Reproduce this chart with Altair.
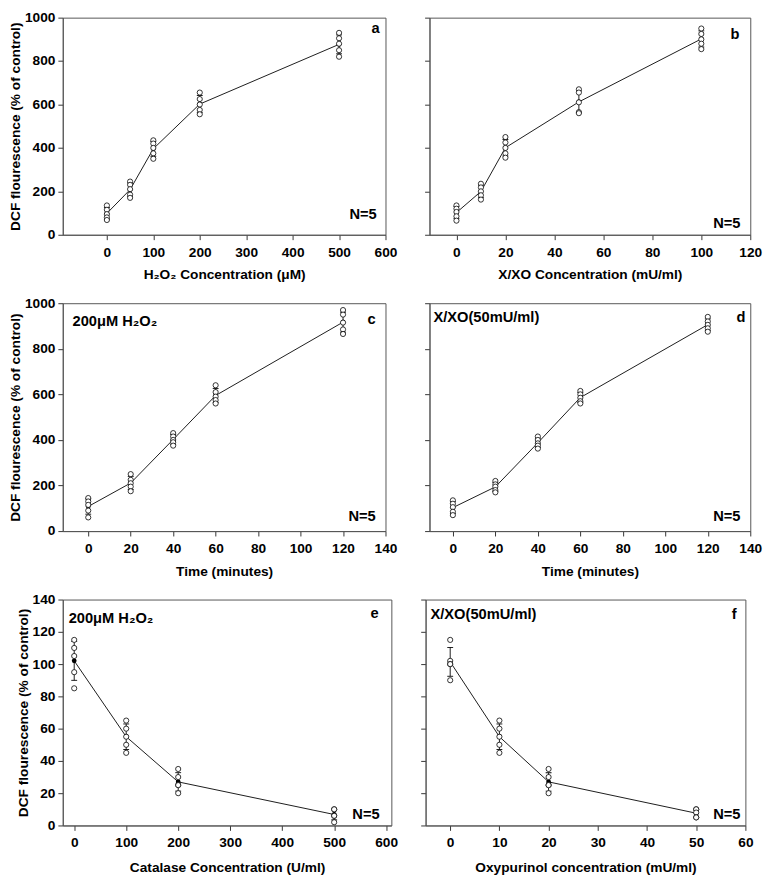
import altair as alt
import pandas as pd

FONT = "Liberation Sans"

# ---------------- data ----------------
a_x = [0, 50, 100, 200, 500]
a_reps = [[135, 115, 95, 80, 68], [245, 230, 210, 185, 170], [435, 420, 400, 375, 350],
          [655, 625, 600, 575, 555], [930, 905, 880, 850, 820]]

b_x = [0, 10, 20, 50, 100]
b_reps = [[135, 120, 105, 85, 65], [235, 218, 200, 182, 162], [450, 425, 400, 375, 355],
          [670, 655, 610, 565, 560], [950, 925, 900, 880, 855]]

c_x = [0, 20, 40, 60, 120]
c_reps = [[145, 130, 115, 90, 60], [250, 225, 210, 195, 175], [430, 415, 400, 390, 375],
          [640, 610, 590, 575, 560], [970, 950, 915, 885, 865]]

d_x = [0, 20, 40, 60, 120]
d_reps = [[135, 120, 105, 85, 70], [220, 205, 195, 180, 170], [415, 400, 385, 375, 362],
          [615, 600, 585, 570, 560], [940, 920, 905, 890, 875]]

e_x = [0, 100, 200, 500]
e_reps = [[115, 110, 105, 95, 85], [65, 60, 55, 50, 45], [35, 30, 25, 25, 20], [10, 10, 6, 6, 2]]

f_x = [0, 10, 20, 50]
f_reps = [[115, 102, 100, 100, 90], [65, 60, 55, 50, 45], [35, 30, 25, 25, 20], [10, 10, 8, 5, 5]]

ticks_a = [0, 100, 200, 300, 400, 500, 600]
ticks_b = [0, 20, 40, 60, 80, 100, 120]
ticks_time = [0, 20, 40, 60, 80, 100, 120, 140]
ticks_e = [0, 100, 200, 300, 400, 500, 600]
ticks_f = [0, 10, 20, 30, 40, 50, 60]
y_ticks_top = [0, 200, 400, 600, 800, 1000]
y_ticks_bot = [0, 20, 40, 60, 80, 100, 120, 140]

Y_TITLE = "DCF flourescence (% of control)"


def text_layer(t, x, y, align, size=15):
    return alt.Chart(pd.DataFrame({"t": [t]})).mark_text(
        align=align, baseline="middle", font=FONT, fontWeight="bold",
        fontSize=size, color="black"
    ).encode(text="t:N", x=alt.value(x), y=alt.value(y))


def panel(xs, reps, xdom, xticks, ydom, yticks, xtitle, left, w, h, texts, title_pad=9):
    df = pd.DataFrame([{"x": x, "y": v} for x, vals in zip(xs, reps) for v in vals])
    xscale = alt.Scale(domain=xdom, nice=False, zero=False)
    yscale = alt.Scale(domain=ydom, nice=False, zero=False)
    xaxis = alt.Axis(values=xticks, title=xtitle, titlePadding=title_pad, format="d")
    if left:
        yaxis = alt.Axis(values=yticks, title=Y_TITLE, format="d")
    else:
        yaxis = alt.Axis(values=yticks, labels=False, title=None)

    def X():
        return alt.X("x:Q", scale=xscale, axis=xaxis)

    def Y(field):
        return alt.Y(field, scale=yscale, axis=yaxis)

    base = alt.Chart(df)
    agg = base.transform_aggregate(
        mean="mean(y)", sd="stdev(y)", groupby=["x"]
    ).transform_calculate(lo="datum.mean - datum.sd", hi="datum.mean + datum.sd")

    line = agg.mark_line(color="black", strokeWidth=0.9).encode(
        x=X(), y=Y("mean:Q"), order="x:Q")
    rule = agg.mark_rule(color="black", strokeWidth=0.9).encode(
        x=X(), y=Y("lo:Q"), y2="hi:Q")
    cap_lo = agg.mark_tick(color="black", orient="horizontal", size=6, thickness=0.9,
                           opacity=1).encode(x=X(), y=Y("lo:Q"))
    cap_hi = agg.mark_tick(color="black", orient="horizontal", size=6, thickness=0.9,
                           opacity=1).encode(x=X(), y=Y("hi:Q"))
    dot = agg.mark_point(filled=True, color="black", size=24, opacity=1).encode(
        x=X(), y=Y("mean:Q"))
    circles = base.mark_point(shape="circle", filled=True, fill="white", stroke="black",
                              strokeWidth=0.8, size=28, opacity=1).encode(
        x=X(), y=Y("y:Q"))
    layers = [line, rule, cap_lo, cap_hi, dot, circles] + [text_layer(*t) for t in texts]
    return alt.layer(*layers).properties(width=w, height=h)


pa = panel(a_x, a_reps, [-95, 600], ticks_a, [0, 1000], y_ticks_top,
           "H\u2082O\u2082 Concentration (\u03bcM)", True, 330, 222,
           [("a", 324, 11, "right"), ("N=5", 321, 201, "right")])
pb = panel(b_x, b_reps, [-11, 120], ticks_b, [0, 1000], y_ticks_top,
           "X/XO Concentration (mU/ml)", False, 328, 222,
           [("b", 317, 17, "right"), ("N=5", 318, 210, "right")])
pc = panel(c_x, c_reps, [-12, 140], ticks_time, [0, 1000], y_ticks_top,
           "Time (minutes)", True, 330, 233,
           [("c", 320, 16, "right"), ("200\u03bcM H\u2082O\u2082", 10, 18, "left"),
            ("N=5", 320, 218, "right")])
pd_ = panel(d_x, d_reps, [-11, 140], ticks_time, [0, 1000], y_ticks_top,
            "Time (minutes)", False, 328, 233,
            [("d", 323, 14, "right"), ("X/XO(50mU/ml)", 4, 14, "left"),
             ("N=5", 318, 218, "right")])
pe = panel(e_x, e_reps, [-22, 610], ticks_e, [0, 140], y_ticks_bot,
           "Catalase Concentration (U/ml)", True, 336, 231,
           [("e", 323, 14, "right"), ("200\u03bcM H\u2082O\u2082", 6, 19, "left"),
            ("N=5", 324, 219, "right")], title_pad=11)
pf = panel(f_x, f_reps, [-5, 60], ticks_f, [0, 140], y_ticks_bot,
           "Oxypurinol concentration (mU/ml)", False, 327, 231,
           [("f", 318, 15, "right"), ("X/XO(50mU/ml)", 5, 15, "left"),
            ("N=5", 322, 219, "right")], title_pad=11)

row1 = alt.hconcat(pa, pb, spacing=26)
row2 = alt.hconcat(pc, pd_, spacing=26)
row3 = alt.hconcat(pe, pf, spacing=22)

chart = alt.vconcat(row1, row2, row3, spacing=13).properties(
    padding={"top": -8, "left": 0, "right": 0, "bottom": 0}
).configure(font=FONT).configure_axis(
    labelFont=FONT, labelFontSize=14, labelFontWeight="bold", labelColor="black",
    titleFont=FONT, titleFontSize=14, titleFontWeight="bold", titleColor="black",
    tickColor="#333", domainColor="#555", tickSize=5, grid=False, labelFlush=False
).configure_axisX(labelPadding=6).configure_axisY(labelPadding=3, titlePadding=2).configure_view(
    stroke="#555", strokeWidth=1
)

chart.save("out.html", embed_options={"renderer": "svg", "actions": False})
